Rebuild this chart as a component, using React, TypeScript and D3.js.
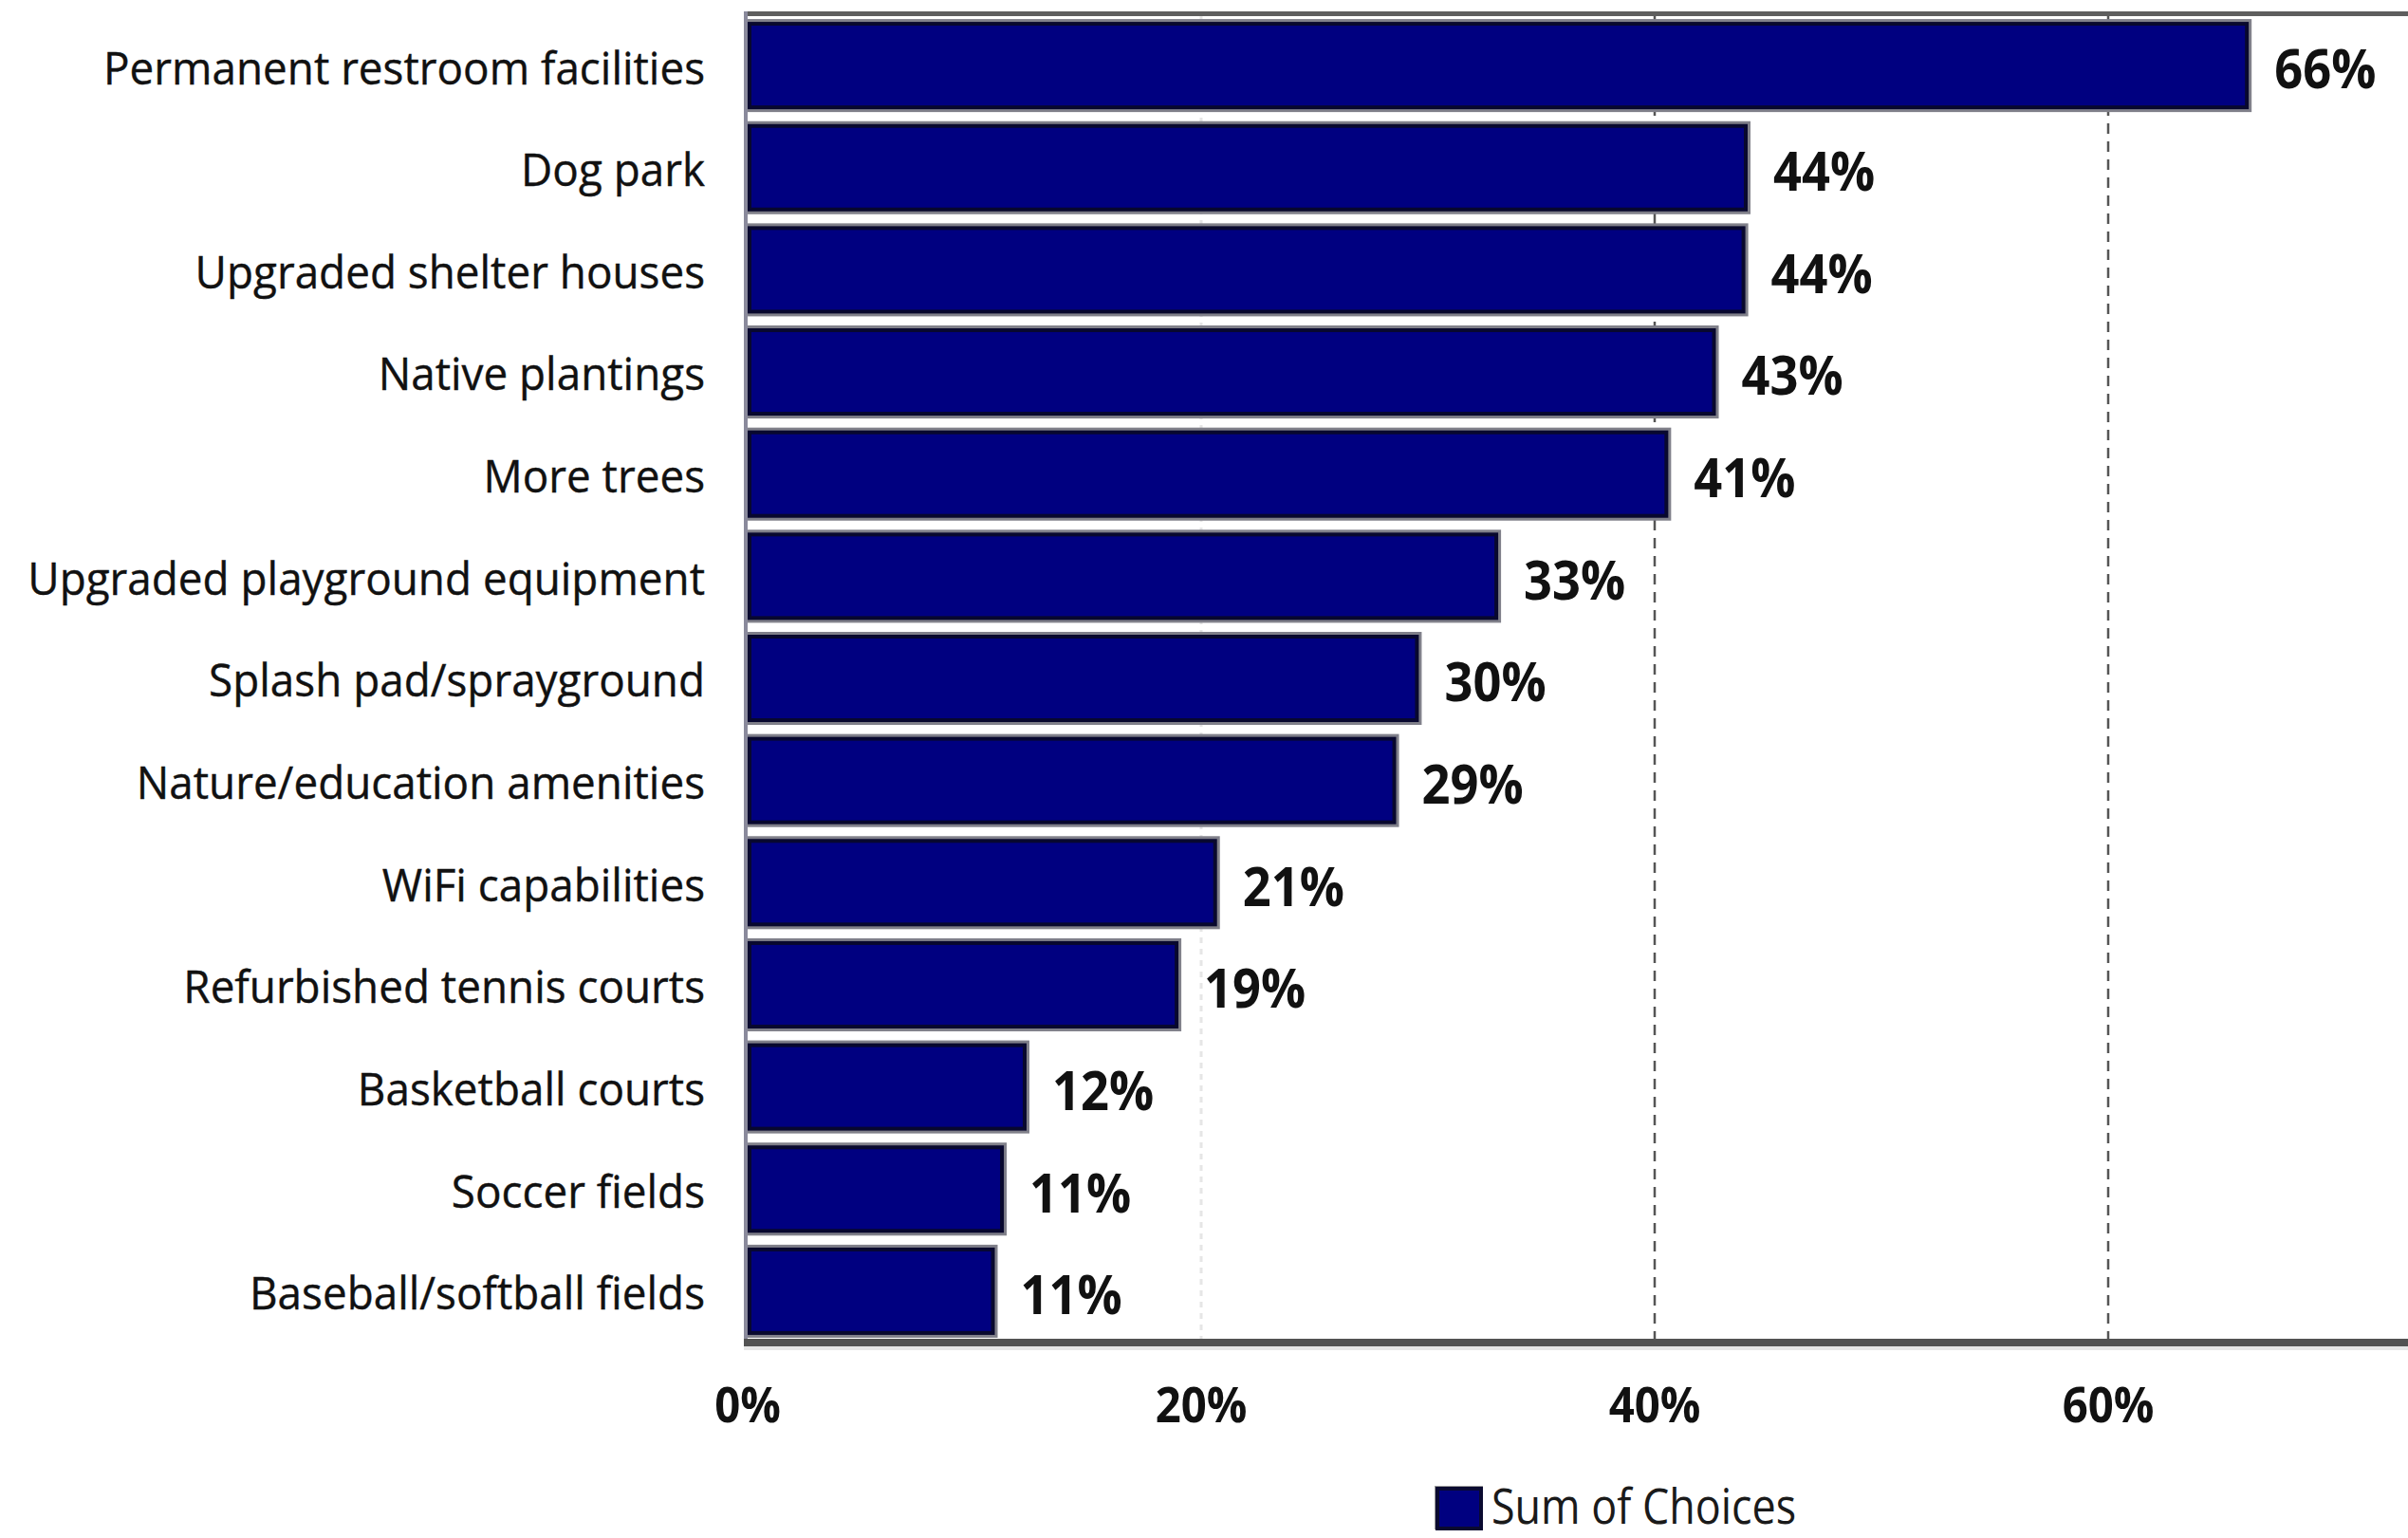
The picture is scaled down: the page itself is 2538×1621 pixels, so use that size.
import React from "react";
import * as d3 from "d3";

const categories = [
  "Permanent restroom facilities",
  "Dog park",
  "Upgraded shelter houses",
  "Native plantings",
  "More trees",
  "Upgraded playground equipment",
  "Splash pad/sprayground",
  "Nature/education amenities",
  "WiFi capabilities",
  "Refurbished tennis courts",
  "Basketball courts",
  "Soccer fields",
  "Baseball/softball fields",
];
const values = [0.662, 0.441, 0.44, 0.427, 0.406, 0.331, 0.296, 0.286, 0.207, 0.19, 0.123, 0.113, 0.109];
const ticks = [0, 0.2, 0.4, 0.6];
const seriesName = "Sum of Choices";

const W = 2538;
const H = 1621;
const FONT = "'Open Sans', 'DejaVu Sans', sans-serif";

export default function App() {
  const x = d3.scaleLinear().domain([0, 0.8]).range([788, 2700]);
  const y = d3.scaleBand<string>().domain(categories).range([15, 1415]).paddingInner(0.145).paddingOuter(0.075);
  const fmt = d3.format(".0%");
  const x0 = x(0);
  const bw = y.bandwidth();

  return (
    <svg width={W} height={H} style={{ position: "absolute", left: 0, top: 0, background: "#fff" }}>
      <rect x={0} y={0} width={W} height={H} fill="#fff" />
      {/* gridlines */}
      {ticks.slice(1).map((t) => (
        <line
          key={t}
          x1={x(t)}
          x2={x(t)}
          y1={16}
          y2={1412}
          stroke={t === 0.2 ? "#e6e6e6" : "#555"}
          strokeWidth={t === 0.2 ? 3 : 2.5}
          strokeDasharray={t === 0.2 ? "6,6" : "11,8"}
        />
      ))}
      {/* frame top */}
      <rect x={784} y={12} width={W - 784} height={5} fill="#5e5e5e" />
      {/* bars */}
      {categories.map((c, i) => {
        const yy = y(c)!;
        const xe = x(values[i]);
        return (
          <g key={c}>
            <rect x={x0} y={yy - 3} width={xe - x0 + 3} height={bw + 6} fill="#80808a" />
            <rect x={x0 + 2} y={yy + 2} width={xe - x0 - 4} height={bw - 4} fill="#000080" stroke="#08082e" strokeWidth={4} />
          </g>
        );
      })}
      {/* left border */}
      <rect x={784} y={12} width={4} height={1406} fill="#8a8a9c" />
      {/* bottom axis */}
      <rect x={784} y={1411} width={W - 784} height={8} fill="#525252" />
      <rect x={784} y={1419} width={W - 784} height={4} fill="#e6e6e6" />
      {/* category labels */}
      {categories.map((c) => (
        <text
          key={c}
          transform={`translate(743,${y(c)! + bw / 2 + 1}) scale(0.955,1)`}
          textAnchor="end"
          dominantBaseline="central"
          fontFamily={FONT}
          fontSize={48}
          fill="#111"
          stroke="#111"
          strokeWidth={0.4}
        >
          {c}
        </text>
      ))}
      {/* value labels */}
      {categories.map((c, i) => (
        <text
          key={c}
          transform={`translate(${x(values[i]) + 27},${y(c)! + bw / 2 + 2}) scale(0.92,1)`}
          dominantBaseline="central"
          fontFamily={FONT}
          fontWeight="bold"
          fontSize={57}
          fill="#111"
        >
          {fmt(values[i])}
        </text>
      ))}
      {/* x tick labels */}
      {ticks.map((t) => (
        <text
          key={t}
          transform={`translate(${x(t)},1479) scale(0.91,1)`}
          textAnchor="middle"
          dominantBaseline="central"
          fontFamily={FONT}
          fontWeight="bold"
          fontSize={52}
          fill="#111"
        >
          {fmt(t)}
        </text>
      ))}
      {/* legend */}
      <rect x={1512} y={1566} width={51} height={46} fill="#9a9a9a" />
      <rect x={1515} y={1569} width={46} height={42} fill="#000080" stroke="#0a0a30" strokeWidth={4} />
      <text
        transform={`translate(1572,1606) scale(0.88,1)`}
        fontFamily={FONT}
        fontSize={51}
        fill="#1a1a1a"
      >
        {seriesName}
      </text>
    </svg>
  );
}
